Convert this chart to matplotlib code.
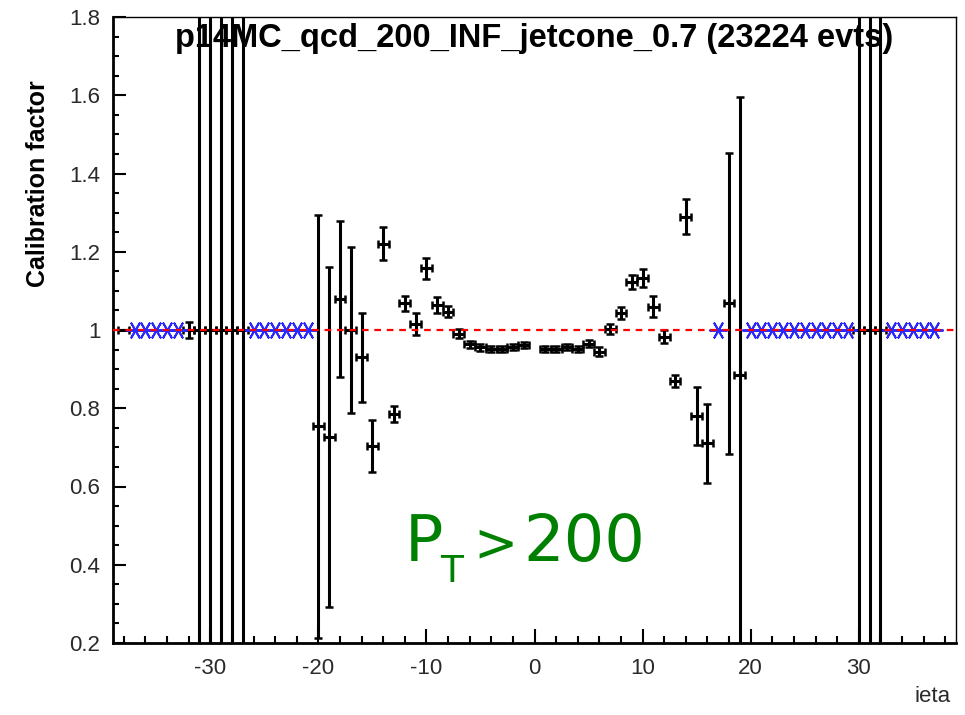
import matplotlib
matplotlib.use("Agg")
import matplotlib.pyplot as plt
from matplotlib.ticker import MultipleLocator, FormatStrFormatter
import numpy as np

plt.rcParams['font.family'] = ['Liberation Sans', 'DejaVu Sans']
plt.rcParams['axes.unicode_minus'] = False

# ---- data ----
title = "p14MC_qcd_200_INF_jetcone_0.7 (23224 evts)"
x_label = "ieta"
y_label = "Calibration factor"

ieta_black = [-38, -32, -31, -30, -29, -28, -27,
              -20, -19, -18, -17, -16, -15, -14, -13, -12, -11, -10, -9, -8, -7,
              -6, -5, -4, -3, -2, -1,
              1, 2, 3, 4, 5, 6, 7, 8, 9, 10, 11, 12, 13, 14, 15, 16, 18, 19,
              30, 31, 32]
calib_black = [1.0, 1.0, 1.0, 1.0, 1.0, 1.0, 1.0,
               0.754, 0.727, 1.079, 1.000, 0.930, 0.703, 1.220, 0.786, 1.068, 1.015, 1.158, 1.064, 1.047, 0.991,
               0.963, 0.956, 0.951, 0.951, 0.956, 0.962,
               0.951, 0.951, 0.956, 0.951, 0.965, 0.945, 1.003, 1.044, 1.123, 1.132, 1.060, 0.983, 0.870, 1.290, 0.780, 0.710, 1.068, 0.885,
               1.0, 1.0, 1.0]
err_black = [0.0, 0.020, 10.0, 10.0, 10.0, 10.0, 10.0,
             0.540, 0.435, 0.200, 0.213, 0.113, 0.066, 0.042, 0.020, 0.020, 0.028, 0.027, 0.020, 0.015, 0.012,
             0.010, 0.009, 0.008, 0.008, 0.008, 0.008,
             0.008, 0.008, 0.008, 0.008, 0.009, 0.011, 0.013, 0.015, 0.018, 0.023, 0.027, 0.016, 0.015, 0.044, 0.075, 0.100, 0.385, 0.710,
             10.0, 10.0, 10.0]

ieta_blue = [-37, -36, -35, -34, -33, -26, -25, -24, -23, -22, -21,
             17, 20, 21, 22, 23, 24, 25, 26, 27, 28, 29, 33, 34, 35, 36, 37]
calib_blue = [1.0] * len(ieta_blue)

ref_level = 1.0
x_range = (-39, 39)
y_range = (0.2, 1.8)

# ---- figure ----
W, H = 965, 715
fig = plt.figure(figsize=(W / 100, H / 100), dpi=100)
ax = fig.add_axes([113 / W, 1 - 643 / H, (956 - 113) / W, (643 - 17) / H])

ax.errorbar(ieta_black, calib_black, yerr=err_black, xerr=0.5, fmt='none',
            ecolor='black', elinewidth=2.2, capsize=2.8, capthick=1.8,
            zorder=2)
ax.plot(ieta_blue, calib_blue, linestyle='none', marker=(6, 2, 30), ms=13,
        mec='#2a2aff', mew=1.4, zorder=3)
ax.plot(list(x_range), [ref_level, ref_level], color='#ff0000', lw=1.6,
        linestyle=(0, (3, 2.6)), zorder=4)

ax.set_xlim(*x_range)
ax.set_ylim(*y_range)

ax.xaxis.set_major_locator(MultipleLocator(10))
ax.xaxis.set_minor_locator(MultipleLocator(2))
ax.yaxis.set_major_locator(MultipleLocator(0.2))
ax.yaxis.set_minor_locator(MultipleLocator(0.05))
ax.yaxis.set_major_formatter(FormatStrFormatter('%g'))

ax.tick_params(axis='both', which='both', direction='in', top=False, right=False,
               width=1.5, labelsize=16, colors='black')
ax.tick_params(axis='y', which='major', length=9, pad=9)
ax.tick_params(axis='y', which='minor', length=4.5)
ax.tick_params(axis='x', which='major', length=10, pad=11)
ax.tick_params(axis='x', which='minor', length=5)
for lab in ax.get_xticklabels() + ax.get_yticklabels():
    lab.set_color('#2a2a2a')

for s in ['left', 'bottom']:
    ax.spines[s].set_linewidth(2.0)
for s in ['top', 'right']:
    ax.spines[s].set_linewidth(1.0)

ax.text(0.5, (643 - 38) / 626, title, transform=ax.transAxes, ha='center',
        va='center', fontsize=23.5, fontweight='bold', zorder=1)
ax.text((38 - 113) / 843, (643 - 80) / 626, y_label, transform=ax.transAxes,
        rotation=90, ha='center', va='top', fontsize=18, fontweight='bold')
fig.text(951 / W, 1 - 697 / H, x_label, ha='right', va='center', fontsize=16,
         color='#2a2a2a')

green = '#008000'
fig.text(405 / W, 1 - 561 / H, "P", ha='left', va='baseline', fontsize=46,
         color=green, family='DejaVu Sans')
fig.text(440 / W, 1 - 582 / H, "T", ha='left', va='baseline', fontsize=27,
         color=green, family='DejaVu Sans')
fig.text(495 / W, 1 - 545 / H, ">", ha='center', va='center', fontsize=38,
         color=green, family='DejaVu Sans')
fig.text(645 / W, 1 - 561 / H, "200", ha='right', va='baseline', fontsize=46,
         color=green, family='DejaVu Sans')

fig.savefig("out.png", dpi=100)
